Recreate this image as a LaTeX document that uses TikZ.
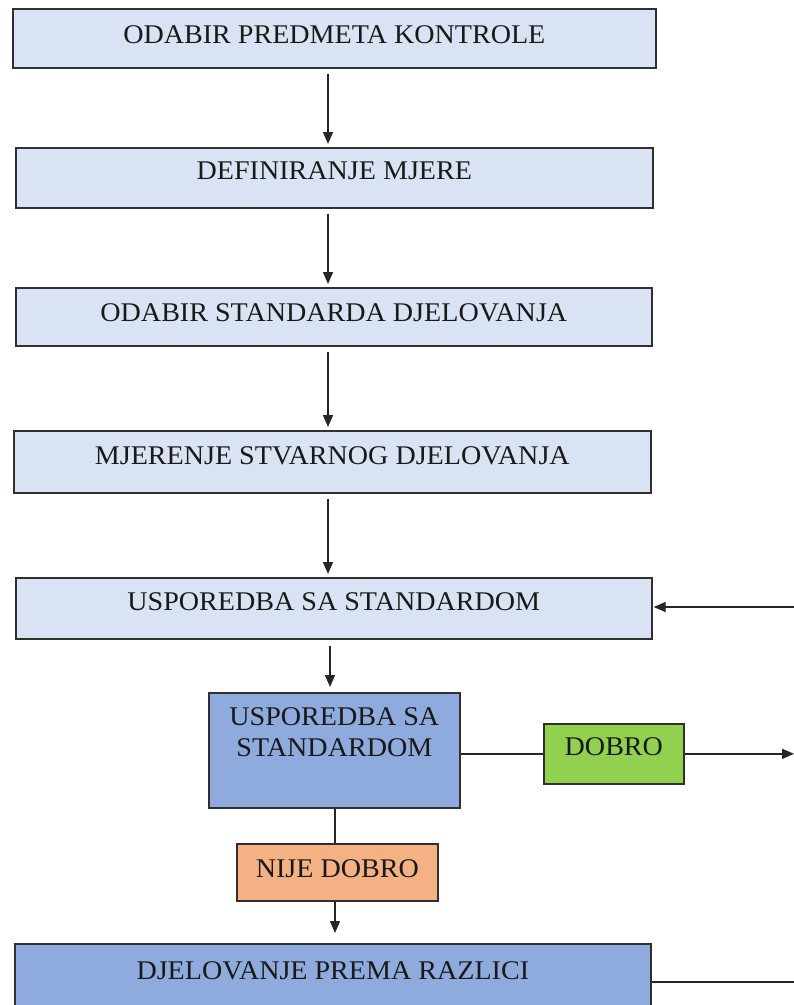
\documentclass[tikz,border=0pt]{standalone}
\usepackage{fontspec}
\setmainfont[FakeStretch=1.04]{Liberation Serif}
\usetikzlibrary{arrows.meta,calc}
\definecolor{lightbox}{HTML}{DAE3F3}
\definecolor{darkbox}{HTML}{8FAADC}
\definecolor{goodbox}{HTML}{92D050}
\definecolor{badbox}{HTML}{F4B183}
\definecolor{edge}{HTML}{303030}
\begin{document}
\begin{tikzpicture}[x=1pt,y=-1pt,
  box/.style={draw=edge, line width=1.7pt, inner xsep=0pt, inner ysep=0pt, anchor=north west,
    font=\fontsize{27}{31}\selectfont, align=center, text=black!90},
  conn/.style={draw=black!85, line width=1.4pt},
  arr/.style={conn, -{Triangle[length=12pt,width=10pt]}}]
\useasboundingbox (0,0) rectangle (794,1005);
\clip (0,0) rectangle (794,1005);
\node[box, fill=lightbox, minimum width=643pt, text height=35pt, text depth=24pt] (b1) at (12,8) {ODABIR PREDMETA KONTROLE};
\node[box, fill=lightbox, minimum width=637pt, text height=32pt, text depth=28pt] (b2) at (15,147) {DEFINIRANJE MJERE};
\node[box, fill=lightbox, minimum width=636pt, text height=34pt, text depth=24pt] (b3) at (15,287) {ODABIR STANDARDA DJELOVANJA};
\node[box, fill=lightbox, minimum width=637pt, text height=34pt, text depth=28pt] (b4) at (13,430) {MJERENJE STVARNOG DJELOVANJA};
\node[box, fill=lightbox, minimum width=636pt, text height=33pt, text depth=28pt] (b5) at (15,577) {USPOREDBA SA STANDARDOM};
\node[box, fill=darkbox, minimum width=251pt, text height=64pt, text depth=51pt] (b6) at (208,692) {USPOREDBA SA\\STANDARDOM};
\node[box, fill=goodbox, minimum width=140pt, text height=32pt, text depth=28pt] (good) at (543,723) {DOBRO};
\node[box, fill=badbox, minimum width=201pt, text height=34pt, text depth=23pt] (bad) at (236,843) {NIJE DOBRO};
\node[box, fill=darkbox, minimum width=636pt, text height=36pt, text depth=40pt] (b9) at (14,943) {DJELOVANJE PREMA RAZLICI};
\coordinate (ax) at (328,0);
\coordinate (bx) at (330,0);
\coordinate (cx) at (335,0);
\coordinate (fb) at (796,607);
\coordinate (out) at (794,755);
\coordinate (out2) at (796,982);
\draw[arr, shorten <=5pt, shorten >=3pt] (b1.south -| ax) -- (b2.north -| ax);
\draw[arr, shorten <=5pt, shorten >=3pt] (b2.south -| ax) -- (b3.north -| ax);
\draw[arr, shorten <=5pt, shorten >=3pt] (b3.south -| ax) -- (b4.north -| ax);
\draw[arr, shorten <=5pt, shorten >=3pt] (b4.south -| ax) -- (b5.north -| ax);
\draw[arr, shorten <=6pt, shorten >=5pt] (b5.south -| bx) -- (b6.north -| bx);
\draw[arr, shorten >=1pt] (fb) -- (fb -| b5.east);
\draw[conn] (b6.east |- good.west) -- (good.west);
\draw[arr] (good.east) -- (good.east -| out);
\draw[conn] (b6.south -| cx) -- (bad.north -| cx);
\draw[arr, shorten >=10pt] (bad.south -| cx) -- (b9.north -| cx);
\draw[conn] (b9.east |- out2) -- (out2);
\end{tikzpicture}
\end{document}
